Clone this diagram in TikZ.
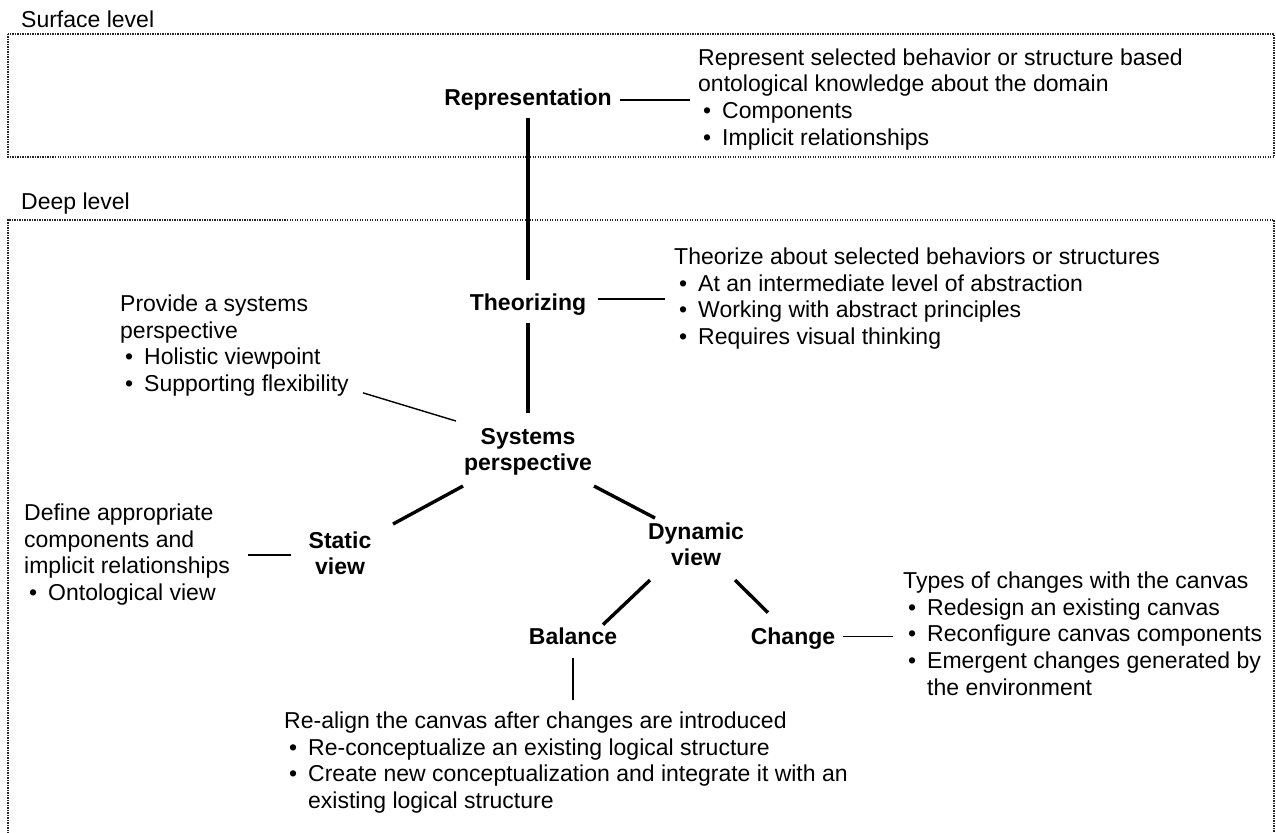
\documentclass[tikz,border=0pt]{standalone}
\usepackage{fontspec}
\setmainfont{Liberation Sans}
\usetikzlibrary{calc}

% bullet item and its hanging continuation inside a left-aligned block
\newcommand\itm{\makebox[24pt][l]{\hspace{5pt}\textbullet}}
\newcommand\cont{\hspace*{24pt}}
\newcommand\blk[1]{\begin{tabular}[t]{@{}l@{}}#1\end{tabular}}
\newcommand\lblk[1]{\begin{tabular}{@{}c@{}}#1\end{tabular}}
\newcommand\bodysize{\fontsize{23}{26.8}\selectfont}

\tikzset{
  concept/.style={font=\bodysize\bfseries, inner sep=0pt, anchor=center},
  note/.style={font=\bodysize, inner sep=0pt, anchor=north west},
  heading/.style={font=\bodysize, inner sep=0pt, anchor=base west},
  edgethick/.style={line width=3.4pt},
  edgethin/.style={line width=1.4pt},
  levelbox/.style={line width=1.4pt, dash pattern=on 1.2pt off 1.3pt, black!85}
}

\begin{document}
\begin{tikzpicture}[x=1pt, y=-1pt]
\useasboundingbox (0,0) rectangle (1276,832);

% level frames
\node[heading] (surf) at (21,28) {Surface level};
\draw[levelbox] (8,34) rectangle (1274,157);
\node[heading] (deep) at (21,209) {Deep level};
\draw[levelbox] (8,836) -- (8,220) -- (1274,220) -- (1274,836);

% concepts
\node[concept] (rep)    at (528,100.64) {\lblk{Representation}};
\node[concept] (theo)   at (528,304.64) {\lblk{Theorizing}};
\node[concept] (sys)    at (528,452.04) {\lblk{Systems\\perspective}};
\node[concept] (static) at (340,556.04) {\lblk{Static\\view}};
\node[concept] (dyn)    at (696,547.04) {\lblk{Dynamic\\view}};
\node[concept] (bal)    at (573,638.64) {\lblk{Balance}};
\node[concept] (chg)    at (793,638.64) {\lblk{Change}};

% descriptions
\node[note] (repdesc) at (698,46.24) {\blk{Represent selected behavior or structure based\\
  ontological knowledge about the domain\\
  \itm Components\\
  \itm Implicit relationships}};
\node[note] (theodesc) at (674,245.24) {\blk{Theorize about selected behaviors or structures\\
  \itm At an intermediate level of abstraction\\
  \itm Working with abstract principles\\
  \itm Requires visual thinking}};
\node[note] (provdesc) at (120,292.24) {\blk{Provide a systems\\
  perspective\\
  \itm Holistic viewpoint\\
  \itm Supporting flexibility}};
\node[note] (defdesc) at (24,501.24) {\blk{Define appropriate\\
  components and\\
  implicit relationships\\
  \itm Ontological view}};
\node[note] (chgdesc) at (903,569.24) {\blk{Types of changes with the canvas\\
  \itm Redesign an existing canvas\\
  \itm Reconfigure canvas components\\
  \itm Emergent changes generated by\\
  \cont the environment}};
\node[note] (baldesc) at (284,709.24) {\blk{Re-align the canvas after changes are introduced\\
  \itm Re-conceptualize an existing logical structure\\
  \itm Create new conceptualization and integrate it with an\\
  \cont existing logical structure}};

% hierarchy
\draw[edgethick, shorten <=4pt, shorten >=11pt] (rep.south) -- (theo.north);
\draw[edgethick, shorten <=5pt, shorten >=12pt] (theo.south) -- (sys.north);
\draw[edgethick] ($(sys.center)+(-65,34)$) -- ($(static.center)+(53,-32)$);
\draw[edgethick] ($(sys.center)+(66,34)$) -- ($(dyn.center)+(-41,-29)$);
\draw[edgethick] ($(dyn.center)+(-46,33)$) -- ($(bal.center)+(30,-14)$);
\draw[edgethick] ($(dyn.center)+(39,33)$) -- ($(chg.center)+(-25,-26)$);

% links to descriptions
\draw[edgethin, shorten <=8pt, shorten >=8pt] (rep.east |- repdesc.west) -- (repdesc.west);
\draw[edgethin, shorten <=12pt, shorten >=9pt] (theo.east |- theodesc.west) -- (theodesc.west);
\draw[edgethin] ($(provdesc.south east)+(14,-7)$) -- ($(sys.center)+(-72,-31)$);
\draw[edgethin, shorten <=18pt, shorten >=17pt] (defdesc.east) -- (defdesc.east -| static.west);
\draw[edgethin, shorten <=8pt, shorten >=10pt] (chg.east |- chgdesc.west) -- (chgdesc.west);
\draw[edgethin, shorten <=6pt, shorten >=9pt] (bal.south) -- (bal.south |- baldesc.north);
\end{tikzpicture}
\end{document}
